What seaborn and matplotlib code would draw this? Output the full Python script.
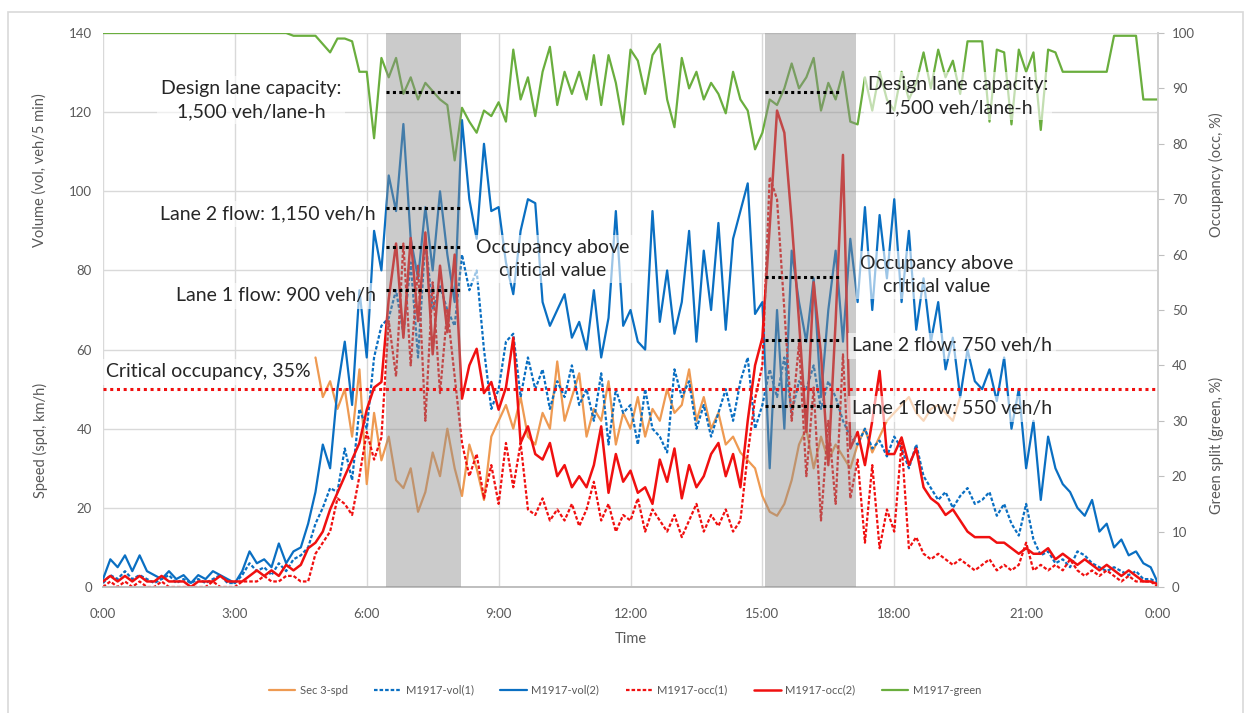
import numpy as np
import pandas as pd
import matplotlib
matplotlib.use("Agg")
import matplotlib.pyplot as plt
import seaborn as sns
from matplotlib.patches import Rectangle

sns.set_theme(style="white")
plt.rcParams['font.family'] = ['Lato', 'DejaVu Sans']

nan = np.nan

# ---------------- data (10-minute readings, 0:00 .. 24:00) ----------------
time_hours = np.arange(145) / 6.0

vol2 = [2, 7, 5, 8, 4, 8,
        4, 3, 2, 4, 2, 3,
        1, 3, 2, 4, 3, 2,
        1, 4, 9, 6, 7, 5,
        11, 6, 9, 10, 16, 24,
        36, 30, 50, 62, 46, 75,
        58, 90, 80, 104, 95, 117,
        88, 78, 96, 80, 100, 84,
        72, 118, 98, 88, 112, 95,
        96, 82, 74, 90, 98, 97,
        72, 66, 70, 74, 63, 67,
        60, 75, 58, 68, 95, 66,
        70, 62, 60, 95, 67, 80,
        64, 72, 90, 62, 85, 70,
        92, 65, 88, 95, 102, 69,
        72, 30, 70, 40, 85, 72,
        62, 78, 48, 70, 85, 62,
        88, 72, 96, 70, 94, 78,
        98, 72, 90, 65, 78, 62,
        72, 55, 63, 48, 60, 52,
        50, 55, 47, 58, 40, 50,
        30, 42, 22, 38, 30, 26,
        24, 20, 18, 22, 14, 16,
        10, 12, 8, 9, 6, 5,
        1]

vol1 = [1, 3, 2, 4, 2, 3,
        2, 1, 2, 3, 1, 2,
        1, 2, 1, 2, 3, 1,
        1, 3, 6, 4, 5, 3,
        6, 4, 7, 8, 10, 16,
        20, 25, 24, 35, 27, 45,
        40, 58, 66, 68, 75, 64,
        82, 58, 88, 70, 76, 70,
        66, 84, 75, 80, 60, 45,
        50, 62, 64, 48, 58, 50,
        55, 45, 52, 48, 56, 46,
        50, 42, 54, 36, 50, 44,
        46, 36, 50, 40, 38, 34,
        55, 48, 52, 40, 46, 38,
        44, 50, 42, 52, 58, 40,
        46, 55, 48, 58, 44, 52,
        50, 56, 45, 52, 48, 42,
        38, 36, 40, 35, 37, 33,
        38, 35, 30, 36, 28, 25,
        22, 24, 20, 23, 25, 21,
        22, 24, 18, 21, 16, 13,
        21, 12, 8, 9, 6, 7,
        5, 9, 8, 6, 5, 4,
        5, 4, 3, 4, 2, 2,
        1]

spd = [nan] * 24 + [
        nan, nan, nan, nan, nan, 58,
        48, 52, 45, 50, 38, 55,
        26, 44, 32, 38, 27, 25,
        30, 19, 24, 34, 28, 40,
        30, 23, 36, 30, 22, 38,
        42, 46, 40, 48, 38, 36,
        44, 40, 57, 42, 48, 54,
        38, 45, 42, 52, 36, 44,
        40, 48, 38, 45, 42, 50,
        44, 46, 55, 42, 48, 40,
        44, 36, 38, 34, 32, 30,
        23, 19, 18, 21, 27, 36,
        40, 30, 38, 32, 36, 33,
        30, 36, 40, 34, 38, 42,
        44, 46, 48, 44, 42, 45,
        46, 44, 42, 48, nan, nan] + [nan] * 25

occ2 = [1, 2, 1, 2, 1, 2,
        1, 1, 2, 1, 1, 1,
        0, 1, 1, 1, 2, 1,
        1, 1, 2, 3, 2, 3,
        2, 4, 3, 4, 7, 8,
        10, 14, 17, 20, 23, 26,
        32, 36, 37, 52, 62, 45,
        63, 48, 64, 42, 58, 46,
        60, 34, 40, 43, 35, 37,
        32, 36, 45, 26, 29, 24,
        23, 26, 20, 22, 18, 20,
        18, 22, 29, 17, 24, 19,
        21, 17, 18, 15, 23, 19,
        25, 16, 22, 18, 20, 24,
        26, 20, 24, 18, 30, 40,
        45, 65, 86, 82, 66, 48,
        28, 55, 42, 22, 48, 78,
        25, 28, 22, 30, 39, 24,
        24, 27, 22, 25, 18, 16,
        15, 13, 14, 12, 10, 9,
        9, 9, 8, 8, 7, 6,
        7, 6, 6, 7, 5, 6,
        5, 4, 5, 4, 3, 4,
        3, 2, 3, 2, 1, 1,
        0.5]

occ1 = [0, 1, 0, 1, 0, 1,
        0, 0, 1, 0, 0, 0,
        0, 0, 0, 1, 0, 0,
        0, 1, 1, 1, 2, 1,
        1, 2, 2, 1, 1, 6,
        8, 10, 16, 15, 13, 20,
        28, 23, 27, 48, 38, 62,
        40, 58, 30, 55, 35, 50,
        38, 26, 20, 24, 16, 22,
        15, 26, 18, 26, 14, 13,
        16, 12, 14, 12, 15, 11,
        14, 19, 12, 15, 10, 13,
        12, 16, 10, 14, 12, 10,
        13, 9, 12, 15, 10, 13,
        11, 14, 10, 12, 24, 34,
        40, 74, 70, 50, 30, 44,
        20, 36, 12, 30, 15, 42,
        16, 23, 8, 22, 7, 14,
        10, 26, 7, 9, 6, 5,
        6, 5, 4, 5, 4, 3,
        4, 5, 3, 4, 3, 4,
        8, 3, 4, 3, 4, 3,
        5, 3, 2, 3, 2, 3,
        2, 1, 2, 1, 1, 1,
        0]

green = [100] * 24 + [
        100, 100, 99.5, 99.5, 99.5, 99.5,
        98, 96.5, 99, 99, 98.5, 93,
        93, 81, 95.5, 92, 95.5, 89,
        92, 88, 91, 89.5, 88, 87,
        77, 86.5, 84, 82, 86, 85,
        87.5, 84, 97, 88, 92, 85,
        93, 97.5, 87, 93, 89, 93,
        88, 96, 87, 96, 91, 83.5,
        97, 95, 89, 96, 98, 88,
        83, 95.5, 90, 93, 88, 91,
        89, 85.5, 93, 88, 86, 79,
        82, 88, 87, 90, 94.5, 90,
        92, 95.5, 86, 91, 88, 93,
        84, 83.5, 92, 86, 93, 88,
        86, 93, 88, 91, 96.5, 90,
        97, 92, 95, 89, 98.5, 98.5,
        98.5, 84, 97, 96.5, 83.5, 97,
        93, 96.5, 82.5, 97, 96.5, 93,
        93, 93, 93, 93, 93, 93,
        99.5, 99.5, 99.5, 99.5, 88, 88,
        88]

series_labels = ["Sec 3-spd", "M1917-vol(1)", "M1917-vol(2)",
                 "M1917-occ(1)", "M1917-occ(2)", "M1917-green"]

# shaded congestion periods (hours)
shade_periods = [(6.44, 8.14), (15.06, 17.12)]
critical_occ = 35.8
# design capacity 1,500 veh/lane-h -> 125 veh/5 min
am_marks_vol = [125, 95.8, 75]      # design cap, lane 2 1,150 veh/h, lane 1 900 veh/h
am_mark_occ = 61.4
pm_marks_vol = [125, 62.5, 45.8]    # design cap, lane 2 750 veh/h, lane 1 550 veh/h
pm_mark_occ = 56.0
am_span = (6.44, 8.14)
pm_span = (15.06, 16.77)

x_ticks = [0, 3, 6, 9, 12, 15, 18, 21, 24]
x_ticklabels = ["0:00", "3:00", "6:00", "9:00", "12:00", "15:00", "18:00", "21:00", "0:00"]

# ---------------- figure ----------------
W, H = 1250, 713
fig = plt.figure(figsize=(W / 100, H / 100), dpi=100)
ax = fig.add_axes([103 / W, 1 - 587 / H, (1158 - 103) / W, (587 - 33) / H])
ax2 = ax.twinx()

c_orange = "#EE9A52"
c_blue = "#0A6FC2"
c_red = "#F01010"
c_green = "#6AAE3E"

def frame(vals):
    return pd.DataFrame({"time": time_hours, "value": vals})

lw = 1.6
dash = (0, (1.6, 0.9))
sns.lineplot(data=frame(spd), x="time", y="value", ax=ax, color=c_orange, lw=lw,
             label=series_labels[0], estimator=None, errorbar=None)
sns.lineplot(data=frame(vol1), x="time", y="value", ax=ax, color=c_blue, lw=lw,
             linestyle=dash, label=series_labels[1], estimator=None, errorbar=None)
sns.lineplot(data=frame(vol2), x="time", y="value", ax=ax, color=c_blue, lw=lw,
             label=series_labels[2], estimator=None, errorbar=None)
sns.lineplot(data=frame(occ1), x="time", y="value", ax=ax2, color=c_red, lw=lw,
             linestyle=dash, label=series_labels[3], estimator=None, errorbar=None)
sns.lineplot(data=frame(occ2), x="time", y="value", ax=ax2, color=c_red, lw=1.8,
             label=series_labels[4], estimator=None, errorbar=None)
sns.lineplot(data=frame(green), x="time", y="value", ax=ax2, color=c_green, lw=lw,
             label=series_labels[5], estimator=None, errorbar=None)

h1, l1 = ax.get_legend_handles_labels()
h2, l2 = ax2.get_legend_handles_labels()
for a in (ax, ax2):
    if a.get_legend() is not None:
        a.get_legend().remove()

# axes styling
ax.set_xlim(0, 24)
ax.set_ylim(0, 140)
ax2.set_ylim(0, 100)
ax.set_xticks(x_ticks)
ax.set_xticklabels(x_ticklabels)
ax.set_yticks(np.arange(0, 141, 20))
ax2.set_yticks(np.arange(0, 101, 10))
ax.grid(True, color="#D9D9D9", lw=1)
ax2.grid(False)
ax.set_xlabel("Time", color="#595959", fontsize=10.5, labelpad=9)
ax.set_ylabel("")
ax2.set_ylabel("")
tick_c = "#595959"
ax.tick_params(axis="both", colors=tick_c, labelsize=9.5, length=0, pad=8)
ax.tick_params(axis="x", pad=15)
ax2.tick_params(axis="y", colors="#BFBFBF", labelcolor=tick_c, labelsize=9.5,
                length=4, width=0.8, pad=6, direction="out")
for a in (ax, ax2):
    a.spines["top"].set_visible(False)
    a.spines["left"].set_visible(False)
    a.spines["bottom"].set_color("#BFBFBF")
    a.spines["right"].set_color("#D0D0D0")

# shaded periods (overlay)
for (s, e) in shade_periods:
    ax2.axvspan(s, e, color="#8C8C8C", alpha=0.45, lw=0, zorder=5)

# critical occupancy line
ax2.axhline(critical_occ, color="#F01010", lw=2.2, ls=(0, (1, 1.2)), zorder=6)

# black dotted markers (volume units converted to occupancy axis units)
def vol_to_right(v):
    return v * 100.0 / 140.0

dot_style = dict(color="black", lw=2.2, ls=(0, (1, 1.1)), zorder=8)
for v in am_marks_vol:
    ax2.plot(am_span, [vol_to_right(v)] * 2, **dot_style)
ax2.plot(am_span, [am_mark_occ] * 2, **dot_style)
for v in pm_marks_vol:
    ax2.plot(pm_span, [vol_to_right(v)] * 2, **dot_style)
ax2.plot(pm_span, [pm_mark_occ] * 2, **dot_style)

# annotations
box = dict(facecolor="white", alpha=0.6, edgecolor="none", pad=3)
tkw = dict(fontsize=14, color="#262626", zorder=9, bbox=box, linespacing=1.42)
def px(x):
    return (x - 103) / 43.96
def py(y):
    return (587 - y) / 5.54

ax2.text(px(251), py(100), "Design lane capacity:\n1,500 veh/lane-h", ha="center", va="center", **tkw)
ax2.text(px(376), py(214), "Lane 2 flow: 1,150 veh/h", ha="right", va="center", **tkw)
ax2.text(px(376), py(296), "Lane 1 flow: 900 veh/h", ha="right", va="center", **tkw)
ax2.text(px(553), py(259), "Occupancy above\ncritical value", ha="center", va="center", **tkw)
ax2.text(px(106), py(372), "Critical occupancy, 35%", ha="left", va="center", **tkw)
ax2.text(px(958), py(96), "Design lane capacity:\n1,500 veh/lane-h", ha="center", va="center", **tkw)
ax2.text(px(937), py(275), "Occupancy above\ncritical value", ha="center", va="center", **tkw)
ax2.text(px(852), py(346), "Lane 2 flow: 750 veh/h", ha="left", va="center", **tkw)
ax2.text(px(852), py(409), "Lane 1 flow: 550 veh/h", ha="left", va="center", **tkw)

# axis titles (two per side)
lab = dict(color="#595959", fontsize=10.5, rotation=90, ha="center", va="center")
fig.text(40 / W, 1 - 170 / H, "Volume (vol, veh/5 min)", **lab)
fig.text(40 / W, 1 - 440 / H, "Speed (spd, km/h)", **lab)
fig.text(1216 / W, 1 - 175 / H, "Occupancy (occ, %)", **lab)
fig.text(1216 / W, 1 - 445 / H, "Green split (green, %)", **lab)

# legend
fig.legend(h1 + h2, l1 + l2, loc="center", bbox_to_anchor=(0.5, 1 - 690 / H), ncol=6,
           frameon=False, fontsize=8, handlelength=2.4, columnspacing=2.4,
           handletextpad=0.4, labelcolor="#595959")

# outer chart frame
fig.add_artist(Rectangle((8 / W, -0.01), (1243 - 8) / W, (713 - 12) / H + 0.01,
                         transform=fig.transFigure, fill=False, edgecolor="#D9D9D9", lw=1.2))

fig.savefig("out.png", dpi=100, facecolor="white")
